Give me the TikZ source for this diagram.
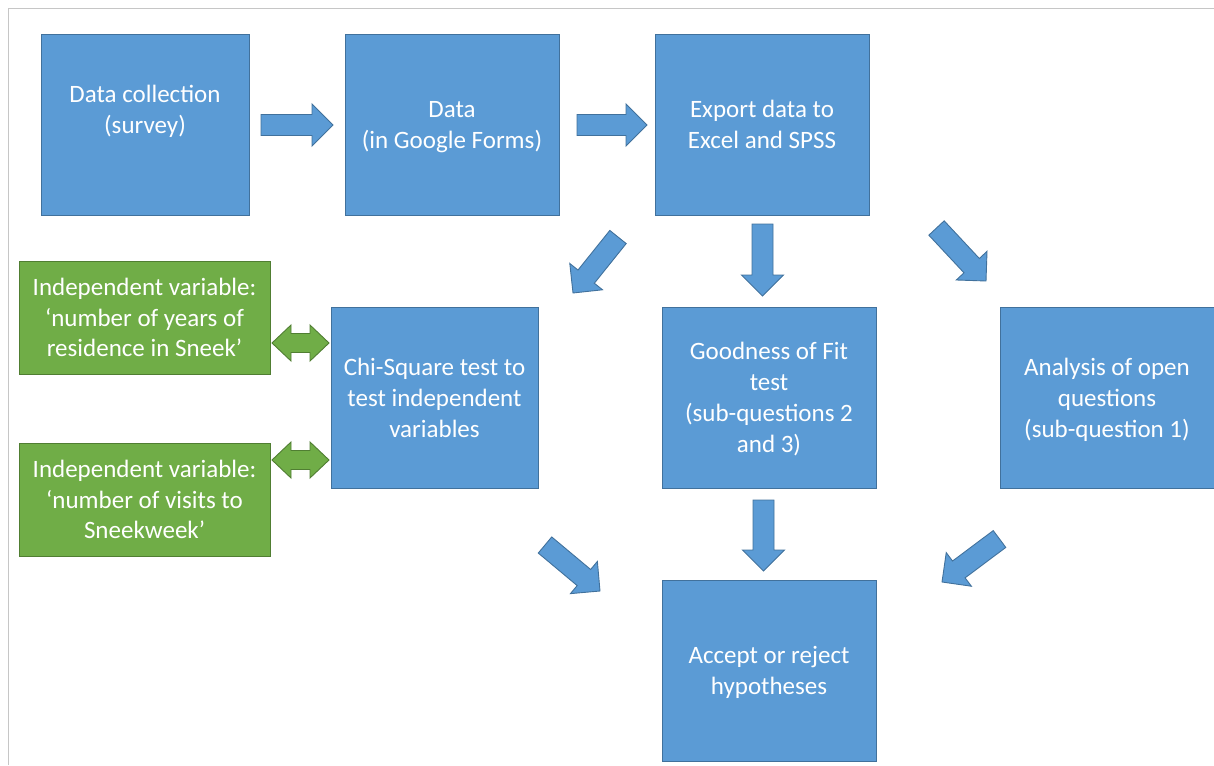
\documentclass[tikz,border=0pt]{standalone}
\usepackage{fontspec}
\setmainfont{Carlito}
\usetikzlibrary{calc}
\definecolor{boxblue}{HTML}{5B9BD5}
\definecolor{boxblueline}{HTML}{41719C}
\definecolor{boxgreen}{HTML}{70AD47}
\definecolor{boxgreenline}{HTML}{507E32}
\definecolor{framegray}{HTML}{C6C6C6}
\tikzset{
  bluebox/.style={draw=boxblueline, fill=boxblue, line width=0.9pt, text=white,
    align=center, inner sep=0pt, minimum width=214pt, minimum height=181pt,
    text depth=0pt, font=\fontsize{25}{31}\selectfont},
  greenbox/.style={draw=boxgreenline, fill=boxgreen, line width=0.9pt, text=white,
    align=center, inner sep=0pt, minimum width=251pt, minimum height=113pt,
    text depth=0pt, font=\fontsize{25}{30.5}\selectfont},
  bluearrow/.style={draw=boxblueline, fill=boxblue, line width=0.9pt, line join=miter},
  greenarrow/.style={draw=boxgreenline, fill=boxgreen, line width=0.9pt, line join=miter},
  frameline/.style={draw=framegray, line width=1.5pt}
}
\newcommand\blockarrow[2]{%
  \coordinate (ba-b) at ($(#2)!21pt!(#1)$);
  \filldraw[bluearrow] ($(#1)!10.5pt!90:(#2)$) -- ($(ba-b)!10.5pt!90:(#2)$) --
    ($(ba-b)!21pt!90:(#2)$) -- (#2) -- ($(ba-b)!21pt!-90:(#2)$) --
    ($(ba-b)!10.5pt!-90:(#2)$) -- ($(#1)!10.5pt!-90:(#2)$) -- cycle;}
\newcommand\twowayarrow[2]{%
  \coordinate (da-a) at ($(#1)!19pt!(#2)$);
  \coordinate (da-b) at ($(#2)!19pt!(#1)$);
  \filldraw[greenarrow] (#1) -- ($(da-a)!18pt!90:(#2)$) -- ($(da-a)!9.5pt!90:(#2)$) --
    ($(da-b)!9.5pt!90:(#2)$) -- ($(da-b)!18pt!90:(#2)$) -- (#2) --
    ($(da-b)!18pt!-90:(#2)$) -- ($(da-b)!9.5pt!-90:(#2)$) --
    ($(da-a)!9.5pt!-90:(#2)$) -- ($(da-a)!18pt!-90:(#2)$) -- cycle;}
\begin{document}
\begin{tikzpicture}[x=1pt, y=-1pt]
\useasboundingbox (0,0) rectangle (1214,765);
% frame
\coordinate (fa) at (8.5,765);
\coordinate (fb) at (8.5,8.5);
\coordinate (fc) at (1214,8.5);
\draw[frameline] (fa) -- (fb) -- (fc);

% boxes
\node[bluebox, minimum width=208pt] (collect) at (145,124.5) {Data collection\\(survey)\\\mbox{}};
\node[bluebox] (data) at (452,124.5) {Data\\(in Google Forms)};
\node[bluebox] (export) at (762,124.5) {Export data to\\Excel and SPSS};
\node[bluebox, minimum width=207pt] (chi) at (434.5,397.5) {Chi-Square test to\\test independent\\variables};
\node[bluebox] (good) at (769,397.5) {Goodness of Fit\\test\\(sub-questions 2\\and 3)};
\node[bluebox] (open) at (1107,397.5) {Analysis of open\\questions\\(sub-question 1)};
\node[bluebox] (accept) at (769,670.5) {Accept or reject\\hypotheses};
\node[greenbox] (years) at (144.5,317.5) {Independent variable:\\‘number of years of\\residence in Sneek’};
\node[greenbox] (visits) at (144.5,499.5) {Independent variable:\\‘number of visits to\\Sneekweek’};

% arrow end points
\coordinate (a1t) at (261,125);   \coordinate (a1h) at (333,125);
\coordinate (a2t) at (577,125);   \coordinate (a2h) at (647,125);
\coordinate (d1t) at (762.5,224); \coordinate (d1h) at (762.5,296);
\coordinate (l1t) at (618,237);   \coordinate (l1h) at (573,293);
\coordinate (r1t) at (936.5,228); \coordinate (r1h) at (986,281);
\coordinate (d2t) at (763.5,500); \coordinate (d2h) at (763.5,571);
\coordinate (r2t) at (545,545);   \coordinate (r2h) at (600,591);
\coordinate (l2t) at (999.5,539); \coordinate (l2h) at (942,582);
\coordinate (g1a) at (272,343);   \coordinate (g1b) at (329,343);
\coordinate (g2a) at (272,460);   \coordinate (g2b) at (329,460);

\blockarrow{a1t}{a1h}
\blockarrow{a2t}{a2h}
\blockarrow{d1t}{d1h}
\blockarrow{l1t}{l1h}
\blockarrow{r1t}{r1h}
\blockarrow{d2t}{d2h}
\blockarrow{r2t}{r2h}
\blockarrow{l2t}{l2h}
\twowayarrow{g1a}{g1b}
\twowayarrow{g2a}{g2b}
\end{tikzpicture}
\end{document}
